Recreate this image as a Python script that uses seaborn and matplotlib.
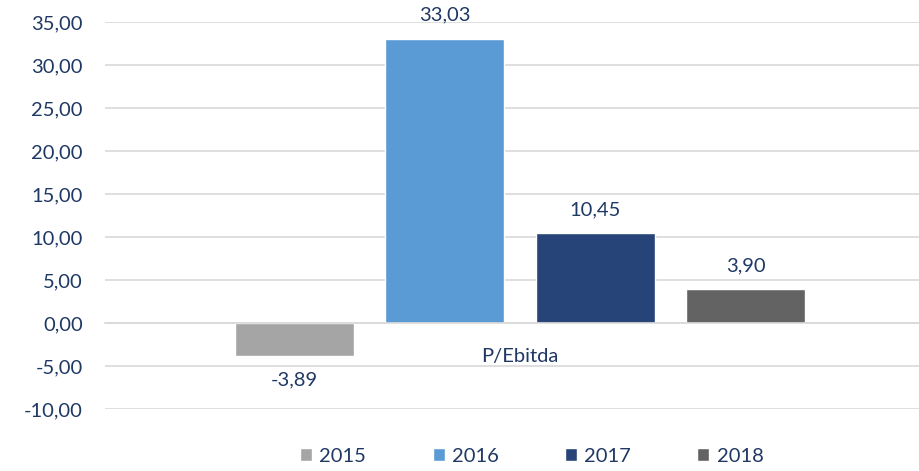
import matplotlib.pyplot as plt
import pandas as pd
import seaborn as sns
from matplotlib.patches import Patch

# Data
years = ["2015", "2016", "2017", "2018"]
values = [-3.89, 33.03, 10.45, 3.90]
category = ["P/Ebitda"] * 4
colors = ["#A5A5A5", "#5B9BD5", "#264478", "#636363"]

df = pd.DataFrame({"metric": category, "year": years, "value": values})

sns.set_style("white")
plt.rcParams["font.family"] = ["Lato", "DejaVu Sans"]
text_color = "#1F3864"
fs = 14.5

fig = plt.figure(figsize=(9.2, 4.71), dpi=100)
ax = fig.add_axes([0.114, 0.1316, 0.886, 0.8216])

sns.barplot(data=df, x="metric", y="value", hue="year", hue_order=years,
            palette=colors, gap=0.21, width=0.8, ax=ax, legend=False,
            saturation=1)

ax.set_ylim(-10, 35)
ax.set_yticks(range(-10, 36, 5))
ax.set_yticklabels([f"{v:.2f}".replace(".", ",") for v in range(-10, 36, 5)])
ax.set_xlim(-0.552, 0.532)
ax.grid(axis="y", color="#D9D9D9", linewidth=1.2)
ax.set_axisbelow(True)
for s in ["top", "right", "left"]:
    ax.spines[s].set_visible(False)
ax.spines["bottom"].set_position(("data", 0))
ax.spines["bottom"].set_color("#D9D9D9")
ax.spines["bottom"].set_linewidth(1.2)
ax.tick_params(axis="both", length=0, labelsize=fs, labelcolor=text_color)
ax.tick_params(axis="y", pad=16)
ax.tick_params(axis="x", pad=18)
ax.set_xlabel("")
ax.set_ylabel("")

# Data labels
for bars, v in zip(ax.containers, values):
    ax.bar_label(bars, labels=[f"{v:.2f}".replace(".", ",")], padding=11,
                 color=text_color, fontsize=fs)

handles = [Patch(facecolor=c, label=y) for c, y in zip(colors, years)]
fig.legend(handles=handles, loc="lower center", ncol=4, frameon=False,
           bbox_to_anchor=(0.578, -0.025), fontsize=fs, labelcolor=text_color,
           handlelength=0.6, handleheight=0.6, handletextpad=0.35,
           columnspacing=3.3)

fig.savefig("out.png", dpi=100)
